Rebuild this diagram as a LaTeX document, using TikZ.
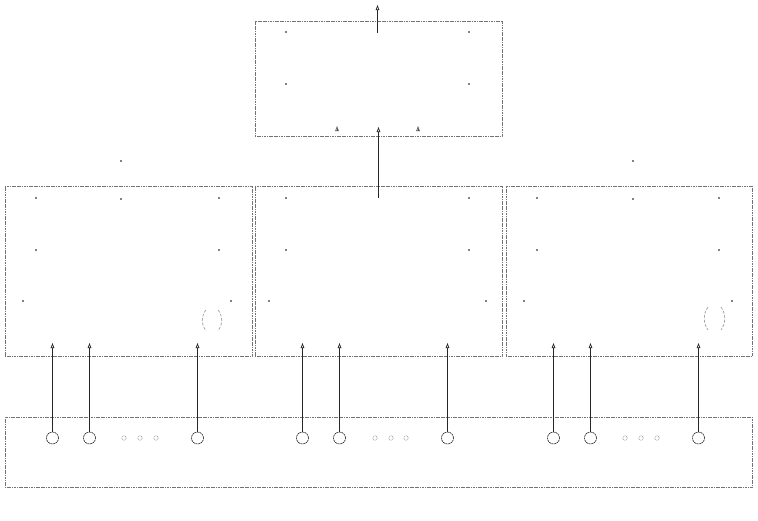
\documentclass[tikz,border=0pt]{standalone}
\usetikzlibrary{arrows.meta}
\begin{document}
\begin{tikzpicture}[x=1pt,y=-1pt,
  box/.style={draw=black!55, line width=0.8pt, dash pattern=on 1.2pt off 0.5pt, inner sep=0pt, outer sep=0pt},
  port/.style={circle, draw=black!85, line width=0.6pt, dash pattern=on 2pt off 0.6pt, minimum size=12pt, inner sep=0pt, outer sep=0pt},
  mini/.style={circle, draw=gray!85, line width=0.5pt, dash pattern=on 0.8pt off 0.6pt, minimum size=4.5pt, inner sep=0pt},
  link/.style={draw=black!85, line width=0.9pt, -{Triangle[open,length=5pt,width=3.5pt,line width=0.7pt]}},
  tipo/.style={draw=black!70, line width=0.4pt, -{Triangle[open,length=5pt,width=3.5pt,line width=0.6pt]}},
  pt/.style={circle, fill=black, minimum size=1.6pt, inner sep=0pt},
  paren/.style={draw=gray!75, line width=0.7pt, dash pattern=on 3pt off 1.5pt},
]
\useasboundingbox (0,0) rectangle (758,520);

% boxes
\node[box, minimum width=247pt, minimum height=115pt] (top) at (378.5,78.5) {};
\node[box, minimum width=247pt, minimum height=170pt] (left) at (128.5,271) {};
\node[box, minimum width=247pt, minimum height=170pt] (center) at (378.5,271) {};
\node[box, minimum width=246pt, minimum height=170pt] (right) at (629,271) {};
\node[box, minimum width=747pt, minimum height=70pt] (bottom) at (378.5,452) {};

% ports and links
\foreach \n/\x in {a1/52.5,a2/89.5,a3/197.5,b1/302.5,b2/339.5,b3/447.5,c1/553.5,c2/590.5,c3/698.5}{
  \node[port] (\n) at (\x,438) {};
  \coordinate (\n t) at (\x,343);
  \draw[link] (\n.north) -- (\n t);
}
\foreach \n/\x in {m1/124,m2/140,m3/156,m4/375,m5/391,m6/406,m7/625,m8/641,m9/657}{
  \node[mini] (\n) at (\x,438) {};
}

% vertical links to top
\coordinate (cs) at (378.5,198);
\coordinate (ct) at (378.5,127);
\draw[link] (cs) -- (ct);
\coordinate (ts) at (377.5,33);
\coordinate (tt) at (377.5,5);
\draw[link] (ts) -- (tt);
\coordinate (la) at (337,129);
\coordinate (lat) at (337,126);
\draw[tipo] (la) -- (lat);
\coordinate (ra) at (418,129);
\coordinate (rat) at (418,126);
\draw[tipo] (ra) -- (rat);

% dots
\foreach \p in {(286,32),(469,32),(286,84),(469,84),
  (36,198),(121,199),(219,198),(36,250),(219,250),(23,301),(231,301),(121,161),
  (286,198),(469,198),(286,250),(469,250),(269,301),(486,301),
  (537,198),(633,199),(719,198),(537,250),(719,250),(524,301),(732,301),(633,161)}{
  \node[pt] at \p {};
}

% parentheses
\draw[paren] (206,310) .. controls (201,316) and (201,324) .. (206,331);
\draw[paren] (218,310) .. controls (223,316) and (223,324) .. (218,331);
\draw[paren] (708,307) .. controls (703,314) and (703,323) .. (708,330);
\draw[paren] (721,307) .. controls (726,314) and (726,323) .. (721,330);
\end{tikzpicture}
\end{document}
